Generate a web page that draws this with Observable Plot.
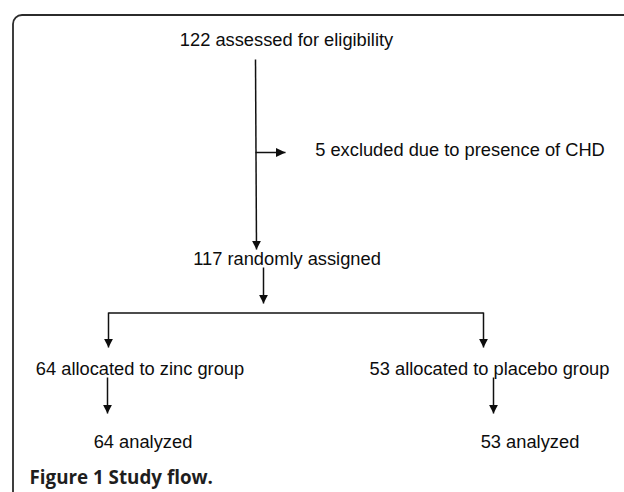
<!DOCTYPE html>
<html>
<head>
<meta charset="utf-8">
<script src="https://cdn.jsdelivr.net/npm/d3@7"></script>
<script src="https://cdn.jsdelivr.net/npm/@observablehq/plot@0.6"></script>
<style>
  html, body { margin: 0; padding: 0; background: #fff; overflow: hidden; }
  #chart svg { display: block; }
</style>
</head>
<body>
<div id="chart"></div>
<script>
// ---- data ----
const labels = [
  "122 assessed for eligibility",
  "5 excluded due to presence of CHD",
  "117 randomly assigned",
  "64 allocated to zinc group",
  "53 allocated to placebo group",
  "64 analyzed",
  "53 analyzed"
];
const counts = [122, 5, 117, 64, 53, 64, 53];
const caption = "Figure 1 Study flow.";

// ---- layout (separate from data) ----
const nodeX = [286, 459.5, 286.5, 139.5, 489, 142.5, 529.5];
const nodeY = [40, 150, 259, 369, 369, 442, 442];
// edges: [x1, y1, x2, y2, arrowhead?]
const edgeX1 = [255, 255, 263, 108, 108, 483, 107, 493];
const edgeY1 = [59, 152, 267, 312.5, 312, 312, 377, 377];
const edgeX2 = [256, 285, 263, 483, 108, 483, 107, 493];
const edgeY2 = [249, 152, 303, 312.5, 347, 347, 413, 413];
const edgeHead = ["down", "right", "down", null, "down", "down", "down", "down"];

const nodes = labels.map((label, i) => ({label, count: counts[i], x: nodeX[i], y: nodeY[i]}));
const edges = edgeX1.map((x1, i) => ({x1, y1: edgeY1[i], x2: edgeX2[i], y2: edgeY2[i], head: edgeHead[i]}));
const heads = edges.filter(d => d.head);

const headDown = {draw(ctx) { ctx.moveTo(0, 0); ctx.lineTo(-4.4, -8.5); ctx.lineTo(4.4, -8.5); ctx.closePath(); }};
const headRight = {draw(ctx) { ctx.moveTo(0, 0); ctx.lineTo(-9.5, -4.4); ctx.lineTo(-9.5, 4.4); ctx.closePath(); }};

const ink = "#0d0d0d";
const chart = Plot.plot({
  width: 624,
  height: 492,
  margin: 0,
  x: {type: "linear", domain: [0, 624], range: [0, 624], axis: null},
  y: {type: "linear", domain: [0, 492], range: [0, 492], axis: null},
  style: {background: "#fff", fontFamily: "'Liberation Sans', Arial, sans-serif"},
  marks: [
    Plot.rect([{}], {x1: 13, x2: 660, y1: 15, y2: 540, rx: 9, fill: "none", stroke: "#2b2b2b", strokeWidth: 1.8}),
    Plot.link(edges, {x1: "x1", y1: "y1", x2: "x2", y2: "y2", stroke: "#111", strokeWidth: 1.5}),
    Plot.dot(heads, {x: "x2", y: "y2", symbol: d => d.head === "down" ? headDown : headRight, fill: ink, stroke: "none"}),
    Plot.text(nodes, {x: "x", y: "y", text: "label", fontSize: 18.3, fill: ink, textAnchor: "middle", lineAnchor: "middle"}),
    Plot.text([caption], {x: 29, y: 477, text: d => d, fontSize: 18.8, fontWeight: "bold", fontFamily: "'Open Sans', sans-serif", fill: "#1e1e1e", textAnchor: "start", lineAnchor: "middle"})
  ]
});
document.getElementById("chart").appendChild(chart);
</script>
</body>
</html>
